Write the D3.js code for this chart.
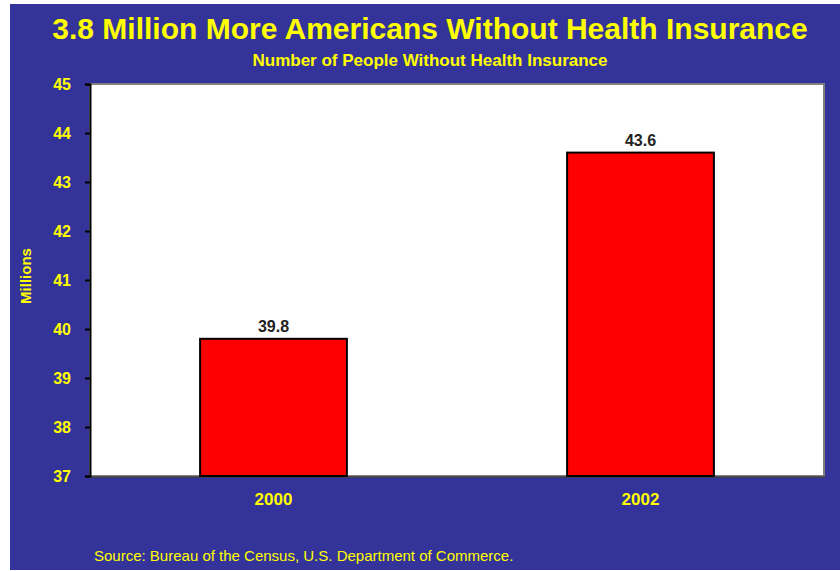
<!DOCTYPE html>
<html>
<head>
<meta charset="utf-8">
<script src="https://cdn.jsdelivr.net/npm/d3@7"></script>
<style>
  html, body { margin: 0; padding: 0; background: #ffffff; }
  svg { display: block; }
  text { font-family: Arial, "Liberation Sans", sans-serif; }
</style>
</head>
<body>
<svg id="chart" width="840" height="571"></svg>
<script>
const categories = ["2000", "2002"];
const values = [39.8, 43.6];
const valueLabels = ["39.8", "43.6"];
const yTicks = [37, 38, 39, 40, 41, 42, 43, 44, 45];
const titleText = "3.8 Million More Americans Without Health Insurance";
const subtitleText = "Number of People Without Health Insurance";
const yAxisTitle = "Millions";
const sourceText = "Source: Bureau of the Census, U.S. Department of Commerce.";

const W = 840, H = 571;
const svg = d3.select("#chart");
const bg = "#333399", yellow = "#ffff00";

svg.append("rect").attr("x", 0).attr("y", 0).attr("width", W).attr("height", H).attr("fill", "#ffffff");
svg.append("rect").attr("x", 10).attr("y", 4).attr("width", W - 10).attr("height", H - 5).attr("fill", bg);

const plot = { left: 90, right: 824, top: 84, bottom: 476 };

const x = d3.scaleBand().domain(categories)
  .range([plot.left, plot.right]).paddingInner(0.6).paddingOuter(0.3);
const y = d3.scaleLinear().domain([37, 45]).range([plot.bottom, plot.top]);

svg.append("rect")
  .attr("x", plot.left).attr("y", plot.top)
  .attr("width", plot.right - plot.left).attr("height", plot.bottom - plot.top)
  .attr("fill", "#ffffff").attr("stroke", "#808080").attr("stroke-width", 2);
svg.append("line").attr("x1", plot.left).attr("x2", plot.right + 1)
  .attr("y1", plot.bottom + 1).attr("y2", plot.bottom + 1)
  .attr("stroke", "#404040").attr("stroke-width", 1.5);

svg.selectAll("rect.bar").data(values).enter().append("rect")
  .attr("class", "bar")
  .attr("x", (d, i) => x(categories[i]))
  .attr("width", x.bandwidth())
  .attr("y", d => y(d))
  .attr("height", d => y(37) - y(d))
  .attr("fill", "#ff0000").attr("stroke", "#000000").attr("stroke-width", 2);

svg.selectAll("text.val").data(values).enter().append("text")
  .attr("class", "val")
  .attr("x", (d, i) => x(categories[i]) + x.bandwidth() / 2)
  .attr("y", d => y(d) - 7)
  .attr("text-anchor", "middle")
  .attr("font-size", 16).attr("font-weight", "bold").attr("fill", "#222222")
  .text((d, i) => valueLabels[i]);

const yAxis = d3.axisLeft(y).tickValues(yTicks).tickSize(5).tickPadding(14).tickFormat(d3.format("d"));
const yg = svg.append("g").attr("transform", `translate(${plot.left},0)`).call(yAxis);
yg.select(".domain").attr("stroke", "#000000").attr("stroke-width", 2);
yg.selectAll(".tick line").attr("stroke", "#000000").attr("stroke-width", 2);
yg.selectAll(".tick text").attr("fill", yellow).attr("font-size", 16).attr("font-weight", "bold")
  .attr("font-family", "Arial, 'Liberation Sans', sans-serif");

const xAxis = d3.axisBottom(x).tickSize(0).tickPadding(17);
const xg = svg.append("g").attr("transform", `translate(0,${plot.bottom})`).call(xAxis);
xg.select(".domain").remove();
xg.selectAll(".tick text").attr("fill", yellow).attr("font-size", 17).attr("font-weight", "bold")
  .attr("font-family", "Arial, 'Liberation Sans', sans-serif");

svg.append("text")
  .attr("transform", "translate(31,276) rotate(-90)")
  .attr("text-anchor", "middle")
  .attr("font-size", 15).attr("font-weight", "bold").attr("fill", yellow)
  .text(yAxisTitle);

svg.append("text").attr("x", 430).attr("y", 39).attr("text-anchor", "middle")
  .attr("font-size", 30).attr("font-weight", "bold").attr("fill", yellow)
  .text(titleText);

svg.append("text").attr("x", 430).attr("y", 66).attr("text-anchor", "middle")
  .attr("font-size", 17).attr("font-weight", "bold").attr("fill", yellow)
  .text(subtitleText);

svg.append("text").attr("x", 94).attr("y", 561)
  .attr("font-size", 15).attr("fill", yellow)
  .text(sourceText);
</script>
</body>
</html>
